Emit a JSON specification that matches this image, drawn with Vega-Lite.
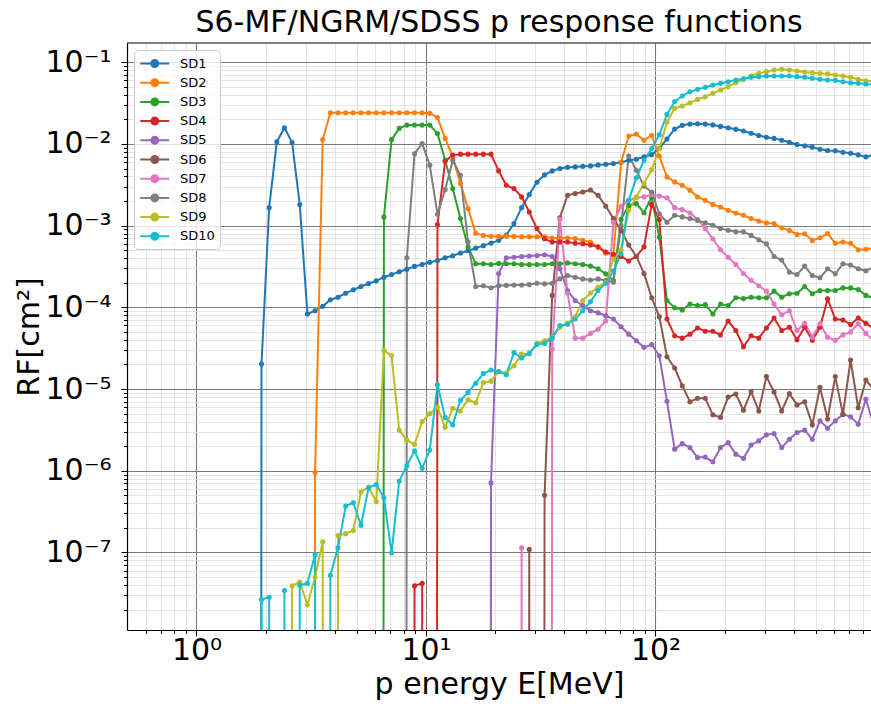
{
"$schema": "https://vega.github.io/schema/vega-lite/v6.json",
"width": 744, "height": 587,
"autosize": {"type": "none"},
"padding": {"left": 127, "top": 43, "right": 0, "bottom": 74},
"title": {"text": "S6-MF/NGRM/SDSS p response functions", "font": "DejaVu Sans", "fontSize": 30, "fontWeight": "normal", "color": "#000", "anchor": "middle", "baseline": "alphabetic", "offset": 8, "dy": 28},
"datasets": {"rf": [
{"s":"SD1","E":1.778,"RF":1e-100},{"s":"SD1","E":1.920,"RF":2.03e-5},{"s":"SD1","E":2.073,"RF":1.66e-3},{"s":"SD1","E":2.239,"RF":1.06e-2},{"s":"SD1","E":2.417,"RF":1.58e-2},{"s":"SD1","E":2.610,"RF":1.04e-2},{"s":"SD1","E":2.818,"RF":1.81e-3},{"s":"SD1","E":3.043,"RF":8.3e-5},{"s":"SD1","E":3.286,"RF":9.1e-5},{"s":"SD1","E":3.548,"RF":1.03e-4},{"s":"SD1","E":3.831,"RF":1.24e-4},{"s":"SD1","E":4.137,"RF":1.33e-4},{"s":"SD1","E":4.467,"RF":1.49e-4},{"s":"SD1","E":4.823,"RF":1.64e-4},{"s":"SD1","E":5.208,"RF":1.80e-4},{"s":"SD1","E":5.623,"RF":1.96e-4},{"s":"SD1","E":6.072,"RF":2.11e-4},{"s":"SD1","E":6.557,"RF":2.34e-4},{"s":"SD1","E":7.079,"RF":2.52e-4},{"s":"SD1","E":7.644,"RF":2.73e-4},{"s":"SD1","E":8.254,"RF":2.93e-4},{"s":"SD1","E":8.913,"RF":3.17e-4},{"s":"SD1","E":9.624,"RF":3.35e-4},{"s":"SD1","E":10.39,"RF":3.57e-4},{"s":"SD1","E":11.22,"RF":3.75e-4},{"s":"SD1","E":12.12,"RF":4.05e-4},{"s":"SD1","E":13.08,"RF":4.28e-4},{"s":"SD1","E":14.13,"RF":4.61e-4},{"s":"SD1","E":15.25,"RF":4.93e-4},{"s":"SD1","E":16.47,"RF":5.31e-4},{"s":"SD1","E":17.78,"RF":5.69e-4},{"s":"SD1","E":19.20,"RF":6.12e-4},{"s":"SD1","E":20.73,"RF":6.61e-4},{"s":"SD1","E":22.39,"RF":7.67e-4},{"s":"SD1","E":24.17,"RF":1.06e-3},{"s":"SD1","E":26.10,"RF":1.66e-3},{"s":"SD1","E":28.18,"RF":2.40e-3},{"s":"SD1","E":30.43,"RF":3.40e-3},{"s":"SD1","E":32.86,"RF":4.18e-3},{"s":"SD1","E":35.48,"RF":4.68e-3},{"s":"SD1","E":38.31,"RF":5.00e-3},{"s":"SD1","E":41.37,"RF":5.19e-3},{"s":"SD1","E":44.67,"RF":5.24e-3},{"s":"SD1","E":48.23,"RF":5.34e-3},{"s":"SD1","E":52.08,"RF":5.39e-3},{"s":"SD1","E":56.23,"RF":5.54e-3},{"s":"SD1","E":60.72,"RF":5.65e-3},{"s":"SD1","E":65.57,"RF":5.76e-3},{"s":"SD1","E":70.79,"RF":5.98e-3},{"s":"SD1","E":76.44,"RF":6.33e-3},{"s":"SD1","E":82.54,"RF":6.51e-3},{"s":"SD1","E":89.13,"RF":6.95e-3},{"s":"SD1","E":96.24,"RF":7.43e-3},{"s":"SD1","E":103.9,"RF":8.8e-3},{"s":"SD1","E":112.2,"RF":1.15e-2},{"s":"SD1","E":121.2,"RF":1.52e-2},{"s":"SD1","E":130.8,"RF":1.69e-2},{"s":"SD1","E":141.3,"RF":1.75e-2},{"s":"SD1","E":152.5,"RF":1.77e-2},{"s":"SD1","E":164.7,"RF":1.75e-2},{"s":"SD1","E":177.8,"RF":1.71e-2},{"s":"SD1","E":192.0,"RF":1.64e-2},{"s":"SD1","E":207.3,"RF":1.58e-2},{"s":"SD1","E":223.9,"RF":1.51e-2},{"s":"SD1","E":241.7,"RF":1.44e-2},{"s":"SD1","E":261.0,"RF":1.35e-2},{"s":"SD1","E":281.8,"RF":1.27e-2},{"s":"SD1","E":304.3,"RF":1.21e-2},{"s":"SD1","E":328.6,"RF":1.17e-2},{"s":"SD1","E":354.8,"RF":1.11e-2},{"s":"SD1","E":383.1,"RF":1.05e-2},{"s":"SD1","E":413.7,"RF":9.86e-3},{"s":"SD1","E":446.7,"RF":9.48e-3},{"s":"SD1","E":482.3,"RF":9.14e-3},{"s":"SD1","E":520.8,"RF":8.63e-3},{"s":"SD1","E":562.3,"RF":8.32e-3},{"s":"SD1","E":607.2,"RF":8.23e-3},{"s":"SD1","E":655.7,"RF":7.93e-3},{"s":"SD1","E":708.0,"RF":7.71e-3},{"s":"SD1","E":764.4,"RF":7.35e-3},{"s":"SD1","E":825.4,"RF":6.95e-3},{"s":"SD1","E":891.3,"RF":7.4e-3},
{"s":"SD2","E":3.043,"RF":1e-100},{"s":"SD2","E":3.286,"RF":9.5e-7},{"s":"SD2","E":3.548,"RF":1.13e-2},{"s":"SD2","E":3.831,"RF":2.41e-2},{"s":"SD2","E":4.137,"RF":2.41e-2},{"s":"SD2","E":4.467,"RF":2.41e-2},{"s":"SD2","E":4.823,"RF":2.41e-2},{"s":"SD2","E":5.208,"RF":2.41e-2},{"s":"SD2","E":5.623,"RF":2.41e-2},{"s":"SD2","E":6.072,"RF":2.41e-2},{"s":"SD2","E":6.557,"RF":2.41e-2},{"s":"SD2","E":7.079,"RF":2.41e-2},{"s":"SD2","E":7.644,"RF":2.41e-2},{"s":"SD2","E":8.254,"RF":2.41e-2},{"s":"SD2","E":8.913,"RF":2.41e-2},{"s":"SD2","E":9.624,"RF":2.41e-2},{"s":"SD2","E":10.39,"RF":2.37e-2},{"s":"SD2","E":11.22,"RF":2.11e-2},{"s":"SD2","E":12.12,"RF":1.17e-2},{"s":"SD2","E":13.08,"RF":6.95e-3},{"s":"SD2","E":14.13,"RF":3.27e-3},{"s":"SD2","E":15.25,"RF":1.62e-3},{"s":"SD2","E":16.47,"RF":8.1e-4},{"s":"SD2","E":17.78,"RF":7.6e-4},{"s":"SD2","E":19.20,"RF":7.4e-4},{"s":"SD2","E":20.73,"RF":7.4e-4},{"s":"SD2","E":22.39,"RF":7.4e-4},{"s":"SD2","E":24.17,"RF":7.4e-4},{"s":"SD2","E":26.10,"RF":7.3e-4},{"s":"SD2","E":28.18,"RF":7.3e-4},{"s":"SD2","E":30.43,"RF":7.3e-4},{"s":"SD2","E":32.86,"RF":7.3e-4},{"s":"SD2","E":35.48,"RF":7.05e-4},{"s":"SD2","E":38.31,"RF":7.05e-4},{"s":"SD2","E":41.37,"RF":7.05e-4},{"s":"SD2","E":44.67,"RF":6.95e-4},{"s":"SD2","E":48.23,"RF":6.6e-4},{"s":"SD2","E":52.08,"RF":6.3e-4},{"s":"SD2","E":56.23,"RF":5.47e-4},{"s":"SD2","E":60.72,"RF":4.6e-4},{"s":"SD2","E":65.57,"RF":4.5e-4},{"s":"SD2","E":70.79,"RF":5.9e-3},{"s":"SD2","E":76.44,"RF":1.25e-2},{"s":"SD2","E":82.54,"RF":1.32e-2},{"s":"SD2","E":89.13,"RF":1.11e-2},{"s":"SD2","E":96.24,"RF":1.28e-2},{"s":"SD2","E":103.9,"RF":7.1e-3},{"s":"SD2","E":112.2,"RF":3.95e-3},{"s":"SD2","E":121.2,"RF":3.43e-3},{"s":"SD2","E":130.8,"RF":3.12e-3},{"s":"SD2","E":141.3,"RF":2.71e-3},{"s":"SD2","E":152.5,"RF":2.25e-3},{"s":"SD2","E":164.7,"RF":2.04e-3},{"s":"SD2","E":177.8,"RF":1.82e-3},{"s":"SD2","E":192.0,"RF":1.69e-3},{"s":"SD2","E":207.3,"RF":1.54e-3},{"s":"SD2","E":223.9,"RF":1.43e-3},{"s":"SD2","E":241.7,"RF":1.34e-3},{"s":"SD2","E":261.0,"RF":1.22e-3},{"s":"SD2","E":281.8,"RF":1.14e-3},{"s":"SD2","E":304.3,"RF":1.08e-3},{"s":"SD2","E":328.6,"RF":1.06e-3},{"s":"SD2","E":354.8,"RF":9.4e-4},{"s":"SD2","E":383.1,"RF":8.75e-4},{"s":"SD2","E":413.7,"RF":7.8e-4},{"s":"SD2","E":446.7,"RF":7.97e-4},{"s":"SD2","E":482.3,"RF":6.6e-4},{"s":"SD2","E":520.8,"RF":7.1e-4},{"s":"SD2","E":562.3,"RF":8.0e-4},{"s":"SD2","E":607.2,"RF":6.1e-4},{"s":"SD2","E":655.7,"RF":6.3e-4},{"s":"SD2","E":708.0,"RF":6.1e-4},{"s":"SD2","E":764.4,"RF":5.07e-4},{"s":"SD2","E":825.4,"RF":5.15e-4},{"s":"SD2","E":891.3,"RF":5.3e-4},
{"s":"SD3","E":6.072,"RF":1e-100},{"s":"SD3","E":6.557,"RF":1.28e-3},{"s":"SD3","E":7.079,"RF":1.13e-2},{"s":"SD3","E":7.644,"RF":1.55e-2},{"s":"SD3","E":8.254,"RF":1.70e-2},{"s":"SD3","E":8.913,"RF":1.70e-2},{"s":"SD3","E":9.624,"RF":1.70e-2},{"s":"SD3","E":10.39,"RF":1.70e-2},{"s":"SD3","E":11.22,"RF":1.34e-2},{"s":"SD3","E":12.12,"RF":6.3e-3},{"s":"SD3","E":13.08,"RF":2.84e-3},{"s":"SD3","E":14.13,"RF":1.22e-3},{"s":"SD3","E":15.25,"RF":5.47e-4},{"s":"SD3","E":16.47,"RF":3.42e-4},{"s":"SD3","E":17.78,"RF":3.42e-4},{"s":"SD3","E":19.20,"RF":3.35e-4},{"s":"SD3","E":20.73,"RF":3.45e-4},{"s":"SD3","E":22.39,"RF":3.42e-4},{"s":"SD3","E":24.17,"RF":3.42e-4},{"s":"SD3","E":26.10,"RF":3.35e-4},{"s":"SD3","E":28.18,"RF":3.35e-4},{"s":"SD3","E":30.43,"RF":3.35e-4},{"s":"SD3","E":32.86,"RF":3.35e-4},{"s":"SD3","E":35.48,"RF":3.42e-4},{"s":"SD3","E":38.31,"RF":3.42e-4},{"s":"SD3","E":41.37,"RF":3.5e-4},{"s":"SD3","E":44.67,"RF":3.42e-4},{"s":"SD3","E":48.23,"RF":3.35e-4},{"s":"SD3","E":52.08,"RF":3.2e-4},{"s":"SD3","E":56.23,"RF":2.97e-4},{"s":"SD3","E":60.72,"RF":2.57e-4},{"s":"SD3","E":65.57,"RF":2.13e-4},{"s":"SD3","E":70.79,"RF":1.2e-3},{"s":"SD3","E":76.44,"RF":1.77e-3},{"s":"SD3","E":82.54,"RF":1.86e-3},{"s":"SD3","E":89.13,"RF":1.44e-3},{"s":"SD3","E":96.24,"RF":2.25e-3},{"s":"SD3","E":103.9,"RF":7.2e-4},{"s":"SD3","E":112.2,"RF":1.21e-4},{"s":"SD3","E":121.2,"RF":9.9e-5},{"s":"SD3","E":130.8,"RF":9.3e-5},{"s":"SD3","E":141.3,"RF":1.10e-4},{"s":"SD3","E":152.5,"RF":1.05e-4},{"s":"SD3","E":164.7,"RF":1.08e-4},{"s":"SD3","E":177.8,"RF":8.3e-5},{"s":"SD3","E":192.0,"RF":1.10e-4},{"s":"SD3","E":207.3,"RF":1.05e-4},{"s":"SD3","E":223.9,"RF":1.31e-4},{"s":"SD3","E":241.7,"RF":1.28e-4},{"s":"SD3","E":261.0,"RF":1.33e-4},{"s":"SD3","E":281.8,"RF":1.31e-4},{"s":"SD3","E":304.3,"RF":1.31e-4},{"s":"SD3","E":328.6,"RF":1.58e-4},{"s":"SD3","E":354.8,"RF":1.33e-4},{"s":"SD3","E":383.1,"RF":1.47e-4},{"s":"SD3","E":413.7,"RF":1.49e-4},{"s":"SD3","E":446.7,"RF":1.80e-4},{"s":"SD3","E":482.3,"RF":1.47e-4},{"s":"SD3","E":520.8,"RF":1.61e-4},{"s":"SD3","E":562.3,"RF":1.61e-4},{"s":"SD3","E":607.2,"RF":1.61e-4},{"s":"SD3","E":655.7,"RF":1.73e-4},{"s":"SD3","E":708.0,"RF":1.73e-4},{"s":"SD3","E":764.4,"RF":1.65e-4},{"s":"SD3","E":825.4,"RF":1.40e-4},{"s":"SD3","E":891.3,"RF":1.3e-4},
{"s":"SD4","E":8.254,"RF":1e-100},{"s":"SD4","E":8.913,"RF":3.9e-8},{"s":"SD4","E":9.624,"RF":4.2e-8},{"s":"SD4","E":10.39,"RF":1e-100},{"s":"SD4","E":11.22,"RF":1.03e-3},{"s":"SD4","E":12.12,"RF":6.15e-3},{"s":"SD4","E":13.08,"RF":7.3e-3},{"s":"SD4","E":14.13,"RF":7.5e-3},{"s":"SD4","E":15.25,"RF":7.5e-3},{"s":"SD4","E":16.47,"RF":7.5e-3},{"s":"SD4","E":17.78,"RF":7.5e-3},{"s":"SD4","E":19.20,"RF":7.5e-3},{"s":"SD4","E":20.73,"RF":4.68e-3},{"s":"SD4","E":22.39,"RF":3.12e-3},{"s":"SD4","E":24.17,"RF":2.84e-3},{"s":"SD4","E":26.10,"RF":2.25e-3},{"s":"SD4","E":28.18,"RF":1.47e-3},{"s":"SD4","E":30.43,"RF":9.2e-4},{"s":"SD4","E":32.86,"RF":6.9e-4},{"s":"SD4","E":35.48,"RF":6.3e-4},{"s":"SD4","E":38.31,"RF":6.3e-4},{"s":"SD4","E":41.37,"RF":6.3e-4},{"s":"SD4","E":44.67,"RF":6.1e-4},{"s":"SD4","E":48.23,"RF":6.0e-4},{"s":"SD4","E":52.08,"RF":5.8e-4},{"s":"SD4","E":56.23,"RF":5.5e-4},{"s":"SD4","E":60.72,"RF":4.75e-4},{"s":"SD4","E":65.57,"RF":4.44e-4},{"s":"SD4","E":70.79,"RF":4.2e-4},{"s":"SD4","E":76.44,"RF":3.7e-4},{"s":"SD4","E":82.54,"RF":4.2e-4},{"s":"SD4","E":89.13,"RF":5.5e-4},{"s":"SD4","E":96.24,"RF":1.82e-3},{"s":"SD4","E":103.9,"RF":1.19e-3},{"s":"SD4","E":112.2,"RF":7.2e-5},{"s":"SD4","E":121.2,"RF":4.5e-5},{"s":"SD4","E":130.8,"RF":4.2e-5},{"s":"SD4","E":141.3,"RF":4.7e-5},{"s":"SD4","E":152.5,"RF":5.6e-5},{"s":"SD4","E":164.7,"RF":5.1e-5},{"s":"SD4","E":177.8,"RF":5.1e-5},{"s":"SD4","E":192.0,"RF":4.6e-5},{"s":"SD4","E":207.3,"RF":6.8e-5},{"s":"SD4","E":223.9,"RF":5.2e-5},{"s":"SD4","E":241.7,"RF":3.3e-5},{"s":"SD4","E":261.0,"RF":4.5e-5},{"s":"SD4","E":281.8,"RF":4.2e-5},{"s":"SD4","E":304.3,"RF":5.6e-5},{"s":"SD4","E":328.6,"RF":7.4e-5},{"s":"SD4","E":354.8,"RF":5.2e-5},{"s":"SD4","E":383.1,"RF":5.7e-5},{"s":"SD4","E":413.7,"RF":4.0e-5},{"s":"SD4","E":446.7,"RF":5.7e-5},{"s":"SD4","E":482.3,"RF":3.95e-5},{"s":"SD4","E":520.8,"RF":5.7e-5},{"s":"SD4","E":562.3,"RF":1.27e-4},{"s":"SD4","E":607.2,"RF":7.2e-5},{"s":"SD4","E":655.7,"RF":7.0e-5},{"s":"SD4","E":708.0,"RF":6.15e-5},{"s":"SD4","E":764.4,"RF":7.4e-5},{"s":"SD4","E":825.4,"RF":6.4e-5},{"s":"SD4","E":891.3,"RF":5.5e-5},
{"s":"SD5","E":17.78,"RF":1e-100},{"s":"SD5","E":19.20,"RF":7.1e-7},{"s":"SD5","E":20.73,"RF":2.6e-4},{"s":"SD5","E":22.39,"RF":4.05e-4},{"s":"SD5","E":24.17,"RF":4.1e-4},{"s":"SD5","E":26.10,"RF":4.2e-4},{"s":"SD5","E":28.18,"RF":4.25e-4},{"s":"SD5","E":30.43,"RF":4.3e-4},{"s":"SD5","E":32.86,"RF":4.4e-4},{"s":"SD5","E":35.48,"RF":4.2e-4},{"s":"SD5","E":38.31,"RF":2.97e-4},{"s":"SD5","E":41.37,"RF":1.61e-4},{"s":"SD5","E":44.67,"RF":1.21e-4},{"s":"SD5","E":48.23,"RF":1.05e-4},{"s":"SD5","E":52.08,"RF":9.1e-5},{"s":"SD5","E":56.23,"RF":8.6e-5},{"s":"SD5","E":60.72,"RF":7.9e-5},{"s":"SD5","E":65.57,"RF":7.2e-5},{"s":"SD5","E":70.79,"RF":5.8e-5},{"s":"SD5","E":76.44,"RF":4.7e-5},{"s":"SD5","E":82.54,"RF":3.9e-5},{"s":"SD5","E":89.13,"RF":3.24e-5},{"s":"SD5","E":96.24,"RF":3.5e-5},{"s":"SD5","E":103.9,"RF":2.56e-5},{"s":"SD5","E":112.2,"RF":7.1e-6},{"s":"SD5","E":121.2,"RF":1.84e-6},{"s":"SD5","E":130.8,"RF":2.15e-6},{"s":"SD5","E":141.3,"RF":1.92e-6},{"s":"SD5","E":152.5,"RF":1.45e-6},{"s":"SD5","E":164.7,"RF":1.47e-6},{"s":"SD5","E":177.8,"RF":1.29e-6},{"s":"SD5","E":192.0,"RF":1.92e-6},{"s":"SD5","E":207.3,"RF":2.21e-6},{"s":"SD5","E":223.9,"RF":1.59e-6},{"s":"SD5","E":241.7,"RF":1.42e-6},{"s":"SD5","E":261.0,"RF":2.07e-6},{"s":"SD5","E":281.8,"RF":2.32e-6},{"s":"SD5","E":304.3,"RF":2.75e-6},{"s":"SD5","E":328.6,"RF":2.85e-6},{"s":"SD5","E":354.8,"RF":1.92e-6},{"s":"SD5","E":383.1,"RF":2.43e-6},{"s":"SD5","E":413.7,"RF":2.94e-6},{"s":"SD5","E":446.7,"RF":3.14e-6},{"s":"SD5","E":482.3,"RF":2.43e-6},{"s":"SD5","E":520.8,"RF":4.08e-6},{"s":"SD5","E":562.3,"RF":3.32e-6},{"s":"SD5","E":607.2,"RF":4.08e-6},{"s":"SD5","E":655.7,"RF":4.93e-6},{"s":"SD5","E":708.0,"RF":4.57e-6},{"s":"SD5","E":764.4,"RF":3.72e-6},{"s":"SD5","E":825.4,"RF":7.5e-6},{"s":"SD5","E":891.3,"RF":3.7e-6},
{"s":"SD6","E":26.10,"RF":1e-100},{"s":"SD6","E":28.18,"RF":1.09e-7},{"s":"SD6","E":30.43,"RF":1e-100},{"s":"SD6","E":32.86,"RF":5.0e-7},{"s":"SD6","E":35.48,"RF":1.4e-4},{"s":"SD6","E":38.31,"RF":1.25e-3},{"s":"SD6","E":41.37,"RF":2.35e-3},{"s":"SD6","E":44.67,"RF":2.47e-3},{"s":"SD6","E":48.23,"RF":2.58e-3},{"s":"SD6","E":52.08,"RF":2.73e-3},{"s":"SD6","E":56.23,"RF":2.35e-3},{"s":"SD6","E":60.72,"RF":1.73e-3},{"s":"SD6","E":65.57,"RF":1.22e-3},{"s":"SD6","E":70.79,"RF":8.75e-4},{"s":"SD6","E":76.44,"RF":5.8e-4},{"s":"SD6","E":82.54,"RF":4.2e-4},{"s":"SD6","E":89.13,"RF":2.6e-4},{"s":"SD6","E":96.24,"RF":1.31e-4},{"s":"SD6","E":103.9,"RF":7.7e-5},{"s":"SD6","E":112.2,"RF":2.49e-5},{"s":"SD6","E":121.2,"RF":1.81e-5},{"s":"SD6","E":130.8,"RF":1.10e-5},{"s":"SD6","E":141.3,"RF":7.0e-6},{"s":"SD6","E":152.5,"RF":7.7e-6},{"s":"SD6","E":164.7,"RF":7.7e-6},{"s":"SD6","E":177.8,"RF":4.84e-6},{"s":"SD6","E":192.0,"RF":4.5e-6},{"s":"SD6","E":207.3,"RF":8.0e-6},{"s":"SD6","E":223.9,"RF":8.7e-6},{"s":"SD6","E":241.7,"RF":5.5e-6},{"s":"SD6","E":261.0,"RF":9.3e-6},{"s":"SD6","E":281.8,"RF":5.4e-6},{"s":"SD6","E":304.3,"RF":1.42e-5},{"s":"SD6","E":328.6,"RF":9.2e-6},{"s":"SD6","E":354.8,"RF":5.4e-6},{"s":"SD6","E":383.1,"RF":8.8e-6},{"s":"SD6","E":413.7,"RF":6.4e-6},{"s":"SD6","E":446.7,"RF":7.0e-6},{"s":"SD6","E":482.3,"RF":3.65e-6},{"s":"SD6","E":520.8,"RF":1.05e-5},{"s":"SD6","E":562.3,"RF":4.3e-6},{"s":"SD6","E":607.2,"RF":1.42e-5},{"s":"SD6","E":655.7,"RF":4.9e-6},{"s":"SD6","E":708.0,"RF":2.27e-5},{"s":"SD6","E":764.4,"RF":5.9e-6},{"s":"SD6","E":825.4,"RF":1.29e-5},{"s":"SD6","E":891.3,"RF":1.0e-5},
{"s":"SD7","E":24.17,"RF":1e-100},{"s":"SD7","E":26.10,"RF":1.14e-7},{"s":"SD7","E":28.18,"RF":1e-100},{"s":"SD7","E":32.86,"RF":1e-100},{"s":"SD7","E":35.48,"RF":3.1e-5},{"s":"SD7","E":38.31,"RF":1.2e-3},{"s":"SD7","E":41.37,"RF":1.5e-4},{"s":"SD7","E":44.67,"RF":4.2e-5},{"s":"SD7","E":48.23,"RF":4.2e-5},{"s":"SD7","E":52.08,"RF":4.8e-5},{"s":"SD7","E":56.23,"RF":5.4e-5},{"s":"SD7","E":60.72,"RF":6.8e-5},{"s":"SD7","E":65.57,"RF":1.1e-3},{"s":"SD7","E":70.79,"RF":1.73e-3},{"s":"SD7","E":76.44,"RF":2.04e-3},{"s":"SD7","E":82.54,"RF":2.2e-3},{"s":"SD7","E":89.13,"RF":2.25e-3},{"s":"SD7","E":96.24,"RF":2.4e-3},{"s":"SD7","E":103.9,"RF":2.3e-3},{"s":"SD7","E":112.2,"RF":2.2e-3},{"s":"SD7","E":121.2,"RF":1.66e-3},{"s":"SD7","E":130.8,"RF":1.57e-3},{"s":"SD7","E":141.3,"RF":1.43e-3},{"s":"SD7","E":152.5,"RF":1.19e-3},{"s":"SD7","E":164.7,"RF":9.2e-4},{"s":"SD7","E":177.8,"RF":6.9e-4},{"s":"SD7","E":192.0,"RF":5.07e-4},{"s":"SD7","E":207.3,"RF":4.1e-4},{"s":"SD7","E":223.9,"RF":3.35e-4},{"s":"SD7","E":241.7,"RF":2.6e-4},{"s":"SD7","E":261.0,"RF":2.15e-4},{"s":"SD7","E":281.8,"RF":1.84e-4},{"s":"SD7","E":304.3,"RF":1.58e-4},{"s":"SD7","E":328.6,"RF":1.1e-4},{"s":"SD7","E":354.8,"RF":8.1e-5},{"s":"SD7","E":383.1,"RF":9.1e-5},{"s":"SD7","E":413.7,"RF":5.2e-5},{"s":"SD7","E":446.7,"RF":6.4e-5},{"s":"SD7","E":482.3,"RF":4.3e-5},{"s":"SD7","E":520.8,"RF":6.3e-5},{"s":"SD7","E":562.3,"RF":4.3e-5},{"s":"SD7","E":607.2,"RF":3.95e-5},{"s":"SD7","E":655.7,"RF":4.6e-5},{"s":"SD7","E":708.0,"RF":5.0e-5},{"s":"SD7","E":764.4,"RF":6.3e-5},{"s":"SD7","E":825.4,"RF":4.8e-5},{"s":"SD7","E":891.3,"RF":3.9e-5},
{"s":"SD8","E":7.644,"RF":1e-100},{"s":"SD8","E":8.254,"RF":4.05e-4},{"s":"SD8","E":8.913,"RF":7.6e-3},{"s":"SD8","E":9.624,"RF":1.01e-2},{"s":"SD8","E":10.39,"RF":5.5e-3},{"s":"SD8","E":11.22,"RF":1.38e-3},{"s":"SD8","E":12.12,"RF":2.76e-3},{"s":"SD8","E":13.08,"RF":6.3e-3},{"s":"SD8","E":14.13,"RF":4.14e-3},{"s":"SD8","E":15.25,"RF":6.3e-4},{"s":"SD8","E":16.47,"RF":1.8e-4},{"s":"SD8","E":17.78,"RF":1.84e-4},{"s":"SD8","E":19.20,"RF":1.74e-4},{"s":"SD8","E":20.73,"RF":1.84e-4},{"s":"SD8","E":22.39,"RF":1.86e-4},{"s":"SD8","E":24.17,"RF":1.88e-4},{"s":"SD8","E":26.10,"RF":1.88e-4},{"s":"SD8","E":28.18,"RF":1.9e-4},{"s":"SD8","E":30.43,"RF":1.97e-4},{"s":"SD8","E":32.86,"RF":1.94e-4},{"s":"SD8","E":35.48,"RF":1.97e-4},{"s":"SD8","E":38.31,"RF":2.23e-4},{"s":"SD8","E":41.37,"RF":2.45e-4},{"s":"SD8","E":44.67,"RF":2.34e-4},{"s":"SD8","E":48.23,"RF":2.23e-4},{"s":"SD8","E":52.08,"RF":2.16e-4},{"s":"SD8","E":56.23,"RF":2.23e-4},{"s":"SD8","E":60.72,"RF":2.13e-4},{"s":"SD8","E":65.57,"RF":2.03e-4},{"s":"SD8","E":70.79,"RF":1.0e-3},{"s":"SD8","E":76.44,"RF":7.1e-3},{"s":"SD8","E":82.54,"RF":4.77e-3},{"s":"SD8","E":89.13,"RF":3.05e-3},{"s":"SD8","E":96.24,"RF":2.58e-3},{"s":"SD8","E":103.9,"RF":1.4e-3},{"s":"SD8","E":112.2,"RF":1.1e-3},{"s":"SD8","E":121.2,"RF":1.34e-3},{"s":"SD8","E":130.8,"RF":1.28e-3},{"s":"SD8","E":141.3,"RF":1.22e-3},{"s":"SD8","E":152.5,"RF":1.16e-3},{"s":"SD8","E":164.7,"RF":1.08e-3},{"s":"SD8","E":177.8,"RF":1.01e-3},{"s":"SD8","E":192.0,"RF":9.2e-4},{"s":"SD8","E":207.3,"RF":8.8e-4},{"s":"SD8","E":223.9,"RF":8.4e-4},{"s":"SD8","E":241.7,"RF":8.4e-4},{"s":"SD8","E":261.0,"RF":7.6e-4},{"s":"SD8","E":281.8,"RF":6.7e-4},{"s":"SD8","E":304.3,"RF":6.0e-4},{"s":"SD8","E":328.6,"RF":4.2e-4},{"s":"SD8","E":354.8,"RF":3.8e-4},{"s":"SD8","E":383.1,"RF":2.7e-4},{"s":"SD8","E":413.7,"RF":2.52e-4},{"s":"SD8","E":446.7,"RF":3.2e-4},{"s":"SD8","E":482.3,"RF":2.45e-4},{"s":"SD8","E":520.8,"RF":2.3e-4},{"s":"SD8","E":562.3,"RF":2.97e-4},{"s":"SD8","E":607.2,"RF":2.57e-4},{"s":"SD8","E":655.7,"RF":3.42e-4},{"s":"SD8","E":708.0,"RF":3.3e-4},{"s":"SD8","E":764.4,"RF":2.97e-4},{"s":"SD8","E":825.4,"RF":2.8e-4},{"s":"SD8","E":891.3,"RF":3.1e-4},
{"s":"SD9","E":2.417,"RF":1e-100},{"s":"SD9","E":2.610,"RF":3.9e-8},{"s":"SD9","E":2.818,"RF":4.35e-8},{"s":"SD9","E":3.043,"RF":2.3e-8},{"s":"SD9","E":3.286,"RF":5.0e-8},{"s":"SD9","E":3.548,"RF":1.35e-7},{"s":"SD9","E":3.831,"RF":1e-100},{"s":"SD9","E":4.137,"RF":1.61e-7},{"s":"SD9","E":4.467,"RF":1.7e-7},{"s":"SD9","E":4.823,"RF":1.86e-7},{"s":"SD9","E":5.208,"RF":5.5e-7},{"s":"SD9","E":5.623,"RF":6.3e-7},{"s":"SD9","E":6.072,"RF":4.2e-7},{"s":"SD9","E":6.557,"RF":2.97e-5},{"s":"SD9","E":7.079,"RF":2.57e-5},{"s":"SD9","E":7.644,"RF":3.14e-6},{"s":"SD9","E":8.254,"RF":2.37e-6},{"s":"SD9","E":8.913,"RF":2.11e-6},{"s":"SD9","E":9.624,"RF":4.0e-6},{"s":"SD9","E":10.39,"RF":5.0e-6},{"s":"SD9","E":11.22,"RF":6.0e-6},{"s":"SD9","E":12.12,"RF":3.4e-6},{"s":"SD9","E":13.08,"RF":5.8e-6},{"s":"SD9","E":14.13,"RF":5.4e-6},{"s":"SD9","E":15.25,"RF":7.4e-6},{"s":"SD9","E":16.47,"RF":6.8e-6},{"s":"SD9","E":17.78,"RF":1.2e-5},{"s":"SD9","E":19.20,"RF":1.25e-5},{"s":"SD9","E":20.73,"RF":1.64e-5},{"s":"SD9","E":22.39,"RF":1.57e-5},{"s":"SD9","E":24.17,"RF":1.93e-5},{"s":"SD9","E":26.10,"RF":2.69e-5},{"s":"SD9","E":28.18,"RF":2.69e-5},{"s":"SD9","E":30.43,"RF":3.62e-5},{"s":"SD9","E":32.86,"RF":3.9e-5},{"s":"SD9","E":35.48,"RF":4.3e-5},{"s":"SD9","E":38.31,"RF":5.7e-5},{"s":"SD9","E":41.37,"RF":6.4e-5},{"s":"SD9","E":44.67,"RF":7.7e-5},{"s":"SD9","E":48.23,"RF":1.21e-4},{"s":"SD9","E":52.08,"RF":1.5e-4},{"s":"SD9","E":56.23,"RF":1.77e-4},{"s":"SD9","E":60.72,"RF":2.03e-4},{"s":"SD9","E":65.57,"RF":3.9e-4},{"s":"SD9","E":70.79,"RF":5.0e-4},{"s":"SD9","E":76.44,"RF":1.54e-3},{"s":"SD9","E":82.54,"RF":2.25e-3},{"s":"SD9","E":89.13,"RF":3.27e-3},{"s":"SD9","E":96.24,"RF":4.85e-3},{"s":"SD9","E":103.9,"RF":8.8e-3},{"s":"SD9","E":112.2,"RF":1.85e-2},{"s":"SD9","E":121.2,"RF":2.73e-2},{"s":"SD9","E":130.8,"RF":2.91e-2},{"s":"SD9","E":141.3,"RF":3.19e-2},{"s":"SD9","E":152.5,"RF":3.51e-2},{"s":"SD9","E":164.7,"RF":3.78e-2},{"s":"SD9","E":177.8,"RF":4.16e-2},{"s":"SD9","E":192.0,"RF":4.57e-2},{"s":"SD9","E":207.3,"RF":5.02e-2},{"s":"SD9","E":223.9,"RF":5.62e-2},{"s":"SD9","E":241.7,"RF":6.18e-2},{"s":"SD9","E":261.0,"RF":6.79e-2},{"s":"SD9","E":281.8,"RF":7.33e-2},{"s":"SD9","E":304.3,"RF":7.67e-2},{"s":"SD9","E":328.6,"RF":8.05e-2},{"s":"SD9","E":354.8,"RF":8.2e-2},{"s":"SD9","E":383.1,"RF":8.05e-2},{"s":"SD9","E":413.7,"RF":7.82e-2},{"s":"SD9","E":446.7,"RF":7.6e-2},{"s":"SD9","E":482.3,"RF":7.45e-2},{"s":"SD9","E":520.8,"RF":7.33e-2},{"s":"SD9","E":562.3,"RF":7.2e-2},{"s":"SD9","E":607.2,"RF":6.98e-2},{"s":"SD9","E":655.7,"RF":6.79e-2},{"s":"SD9","E":708.0,"RF":6.55e-2},{"s":"SD9","E":764.4,"RF":6.18e-2},{"s":"SD9","E":825.4,"RF":5.94e-2},{"s":"SD9","E":891.3,"RF":5.8e-2},
{"s":"SD10","E":1.778,"RF":1e-100},{"s":"SD10","E":1.920,"RF":2.65e-8},{"s":"SD10","E":2.073,"RF":2.83e-8},{"s":"SD10","E":2.239,"RF":1e-100},{"s":"SD10","E":2.417,"RF":3.42e-8},{"s":"SD10","E":2.610,"RF":1e-100},{"s":"SD10","E":2.818,"RF":3.98e-8},{"s":"SD10","E":3.043,"RF":4.17e-8},{"s":"SD10","E":3.286,"RF":9.4e-8},{"s":"SD10","E":3.548,"RF":1e-100},{"s":"SD10","E":3.831,"RF":5.27e-8},{"s":"SD10","E":4.137,"RF":1.14e-7},{"s":"SD10","E":4.467,"RF":3.7e-7},{"s":"SD10","E":4.823,"RF":4.06e-7},{"s":"SD10","E":5.208,"RF":2.16e-7},{"s":"SD10","E":5.623,"RF":6.2e-7},{"s":"SD10","E":6.072,"RF":6.8e-7},{"s":"SD10","E":6.557,"RF":4.68e-7},{"s":"SD10","E":7.079,"RF":9.9e-8},{"s":"SD10","E":7.644,"RF":7.5e-7},{"s":"SD10","E":8.254,"RF":1.15e-6},{"s":"SD10","E":8.913,"RF":1.75e-6},{"s":"SD10","E":9.624,"RF":1.07e-6},{"s":"SD10","E":10.39,"RF":1.79e-6},{"s":"SD10","E":11.22,"RF":1.13e-5},{"s":"SD10","E":12.12,"RF":4.5e-6},{"s":"SD10","E":13.08,"RF":3.65e-6},{"s":"SD10","E":14.13,"RF":7.3e-6},{"s":"SD10","E":15.25,"RF":9.1e-6},{"s":"SD10","E":16.47,"RF":1.18e-5},{"s":"SD10","E":17.78,"RF":1.55e-5},{"s":"SD10","E":19.20,"RF":1.71e-5},{"s":"SD10","E":20.73,"RF":1.64e-5},{"s":"SD10","E":22.39,"RF":1.5e-5},{"s":"SD10","E":24.17,"RF":2.81e-5},{"s":"SD10","E":26.10,"RF":2.4e-5},{"s":"SD10","E":28.18,"RF":2.75e-5},{"s":"SD10","E":30.43,"RF":3.5e-5},{"s":"SD10","E":32.86,"RF":3.62e-5},{"s":"SD10","E":35.48,"RF":4.2e-5},{"s":"SD10","E":38.31,"RF":5.98e-5},{"s":"SD10","E":41.37,"RF":6.2e-5},{"s":"SD10","E":44.67,"RF":7.2e-5},{"s":"SD10","E":48.23,"RF":9.1e-5},{"s":"SD10","E":52.08,"RF":1.17e-4},{"s":"SD10","E":56.23,"RF":1.61e-4},{"s":"SD10","E":60.72,"RF":1.97e-4},{"s":"SD10","E":65.57,"RF":2.8e-4},{"s":"SD10","E":70.79,"RF":4.5e-4},{"s":"SD10","E":76.44,"RF":2.04e-3},{"s":"SD10","E":82.54,"RF":3.85e-3},{"s":"SD10","E":89.13,"RF":6.3e-3},{"s":"SD10","E":96.24,"RF":8.8e-3},{"s":"SD10","E":103.9,"RF":1.3e-2},{"s":"SD10","E":112.2,"RF":2.3e-2},{"s":"SD10","E":121.2,"RF":3.3e-2},{"s":"SD10","E":130.8,"RF":3.86e-2},{"s":"SD10","E":141.3,"RF":4.36e-2},{"s":"SD10","E":152.5,"RF":4.66e-2},{"s":"SD10","E":164.7,"RF":4.94e-2},{"s":"SD10","E":177.8,"RF":5.27e-2},{"s":"SD10","E":192.0,"RF":5.52e-2},{"s":"SD10","E":207.3,"RF":5.78e-2},{"s":"SD10","E":223.9,"RF":6.06e-2},{"s":"SD10","E":241.7,"RF":6.29e-2},{"s":"SD10","E":261.0,"RF":6.55e-2},{"s":"SD10","E":281.8,"RF":6.66e-2},{"s":"SD10","E":304.3,"RF":6.79e-2},{"s":"SD10","E":328.6,"RF":6.79e-2},{"s":"SD10","E":354.8,"RF":6.79e-2},{"s":"SD10","E":383.1,"RF":6.79e-2},{"s":"SD10","E":413.7,"RF":6.66e-2},{"s":"SD10","E":446.7,"RF":6.55e-2},{"s":"SD10","E":482.3,"RF":6.36e-2},{"s":"SD10","E":520.8,"RF":6.18e-2},{"s":"SD10","E":562.3,"RF":6.06e-2},{"s":"SD10","E":607.2,"RF":6.0e-2},{"s":"SD10","E":655.7,"RF":5.78e-2},{"s":"SD10","E":708.0,"RF":5.62e-2},{"s":"SD10","E":764.4,"RF":5.52e-2},{"s":"SD10","E":825.4,"RF":5.42e-2},{"s":"SD10","E":891.3,"RF":5.3e-2}
], "frame": [{"top": 0.172}]},
"layer": [
{"data": {"name": "rf"},
 "mark": {"type": "line", "clip": true, "strokeWidth": 2},
 "encoding": {
  "x": {"field": "E", "type": "quantitative", "scale": {"type": "log", "domain": [0.498, 869], "nice": false},
   "axis": {"title": "p energy E[MeV]",
    "values": [0.6,0.7,0.8,0.9,1,2,3,4,5,6,7,8,9,10,20,30,40,50,60,70,80,90,100,200,300,400,500,600,700,800],
    "labelExpr": "abs(log(datum.value)/LN10 - round(log(datum.value)/LN10)) < 0.001 ? '10' + ['⁰','¹','²','³'][round(log(datum.value)/LN10)] : ''",
    "labelFontSize": 30, "labelColor": "#000", "labelPadding": -1, "labelOverlap": false, "labelBound": false, "labelFlush": false,
    "tickColor": "#000", "tickWidth": 1,
    "tickSize": {"condition": {"test": "abs(log(datum.value)/LN10 - round(log(datum.value)/LN10)) < 0.001", "value": 6}, "value": 3.5},
    "grid": true,
    "gridColor": {"condition": {"test": "abs(log(datum.value)/LN10 - round(log(datum.value)/LN10)) < 0.001", "value": "#7a7a7a"}, "value": "#dedede"},
    "gridWidth": {"condition": {"test": "abs(log(datum.value)/LN10 - round(log(datum.value)/LN10)) < 0.001", "value": 1.1}, "value": 0.8},
    "domainColor": "#000", "domainWidth": 1.2,
    "titleFontSize": 30, "titleFontWeight": "normal", "titleColor": "#000", "titlePadding": 4}},
  "y": {"field": "RF", "type": "quantitative", "scale": {"type": "log", "domain": [1.125e-8, 0.172], "nice": false},
   "axis": {"title": "RF[cm²]",
    "values": [2e-8,3e-8,4e-8,5e-8,6e-8,7e-8,8e-8,9e-8,1e-7,2e-7,3e-7,4e-7,5e-7,6e-7,7e-7,8e-7,9e-7,1e-6,2e-6,3e-6,4e-6,5e-6,6e-6,7e-6,8e-6,9e-6,1e-5,2e-5,3e-5,4e-5,5e-5,6e-5,7e-5,8e-5,9e-5,1e-4,2e-4,3e-4,4e-4,5e-4,6e-4,7e-4,8e-4,9e-4,1e-3,2e-3,3e-3,4e-3,5e-3,6e-3,7e-3,8e-3,9e-3,1e-2,2e-2,3e-2,4e-2,5e-2,6e-2,7e-2,8e-2,9e-2,1e-1],
    "labelExpr": "abs(log(datum.value)/LN10 - round(log(datum.value)/LN10)) < 0.001 ? '10⁻' + ['⁰','¹','²','³','⁴','⁵','⁶','⁷','⁸','⁹'][-round(log(datum.value)/LN10)] : ''",
    "labelFontSize": 30, "labelColor": "#000", "labelPadding": 10, "labelOverlap": false, "labelBound": false, "labelFlush": false,
    "tickColor": "#000", "tickWidth": 1,
    "tickSize": {"condition": {"test": "abs(log(datum.value)/LN10 - round(log(datum.value)/LN10)) < 0.001", "value": 6}, "value": 3.5},
    "grid": true,
    "gridColor": {"condition": {"test": "abs(log(datum.value)/LN10 - round(log(datum.value)/LN10)) < 0.001", "value": "#7a7a7a"}, "value": "#dedede"},
    "gridWidth": {"condition": {"test": "abs(log(datum.value)/LN10 - round(log(datum.value)/LN10)) < 0.001", "value": 1.1}, "value": 0.8},
    "domainColor": "#000", "domainWidth": 1.2,
    "titleFontSize": 30, "titleFontWeight": "normal", "titleColor": "#000",
    "titleX": -98, "titleY": 293.5, "titleAngle": 270, "titleAlign": "center", "titleBaseline": "middle"}},
  "color": {"field": "s", "type": "nominal",
   "scale": {"domain": ["SD1","SD2","SD3","SD4","SD5","SD6","SD7","SD8","SD9","SD10"],
    "range": ["#1f77b4","#ff7f0e","#2ca02c","#d62728","#9467bd","#8c564b","#e377c2","#7f7f7f","#bcbd22","#17becf"]},
   "legend": {"title": null, "orient": "none", "legendX": 7, "legendY": 7,
    "symbolType": "M-1,0H3M0.52,0A0.48,0.48,0,1,1,1.48,0A0.48,0.48,0,1,1,0.52,0Z",
    "symbolSize": 210, "symbolStrokeWidth": 2, "symbolOpacity": 1,
    "labelFont": "DejaVu Sans", "labelFontSize": 13, "labelColor": "#000", "labelOffset": 24,
    "rowPadding": 3.2, "padding": 5,
    "fillColor": "rgba(255,255,255,0.8)", "strokeColor": "#cccccc", "cornerRadius": 4,
    "encode": {"symbols": {"update": {"fill": {"scale": "color", "field": "value"}, "fillOpacity": {"value": 1}}}}}}
 }},
{"data": {"name": "rf"},
 "mark": {"type": "point", "filled": true, "size": 26, "opacity": 1, "clip": true},
 "encoding": {
  "x": {"field": "E", "type": "quantitative"},
  "y": {"field": "RF", "type": "quantitative"},
  "color": {"field": "s", "type": "nominal"}
 }},
{"data": {"name": "frame"},
 "mark": {"type": "rule", "color": "#000", "strokeWidth": 1.2},
 "encoding": {"y": {"field": "top", "type": "quantitative"}}}
],
"config": {"font": "DejaVu Sans", "view": {"stroke": null},
 "axis": {"labelFont": "DejaVu Sans", "titleFont": "DejaVu Sans"}}
}
